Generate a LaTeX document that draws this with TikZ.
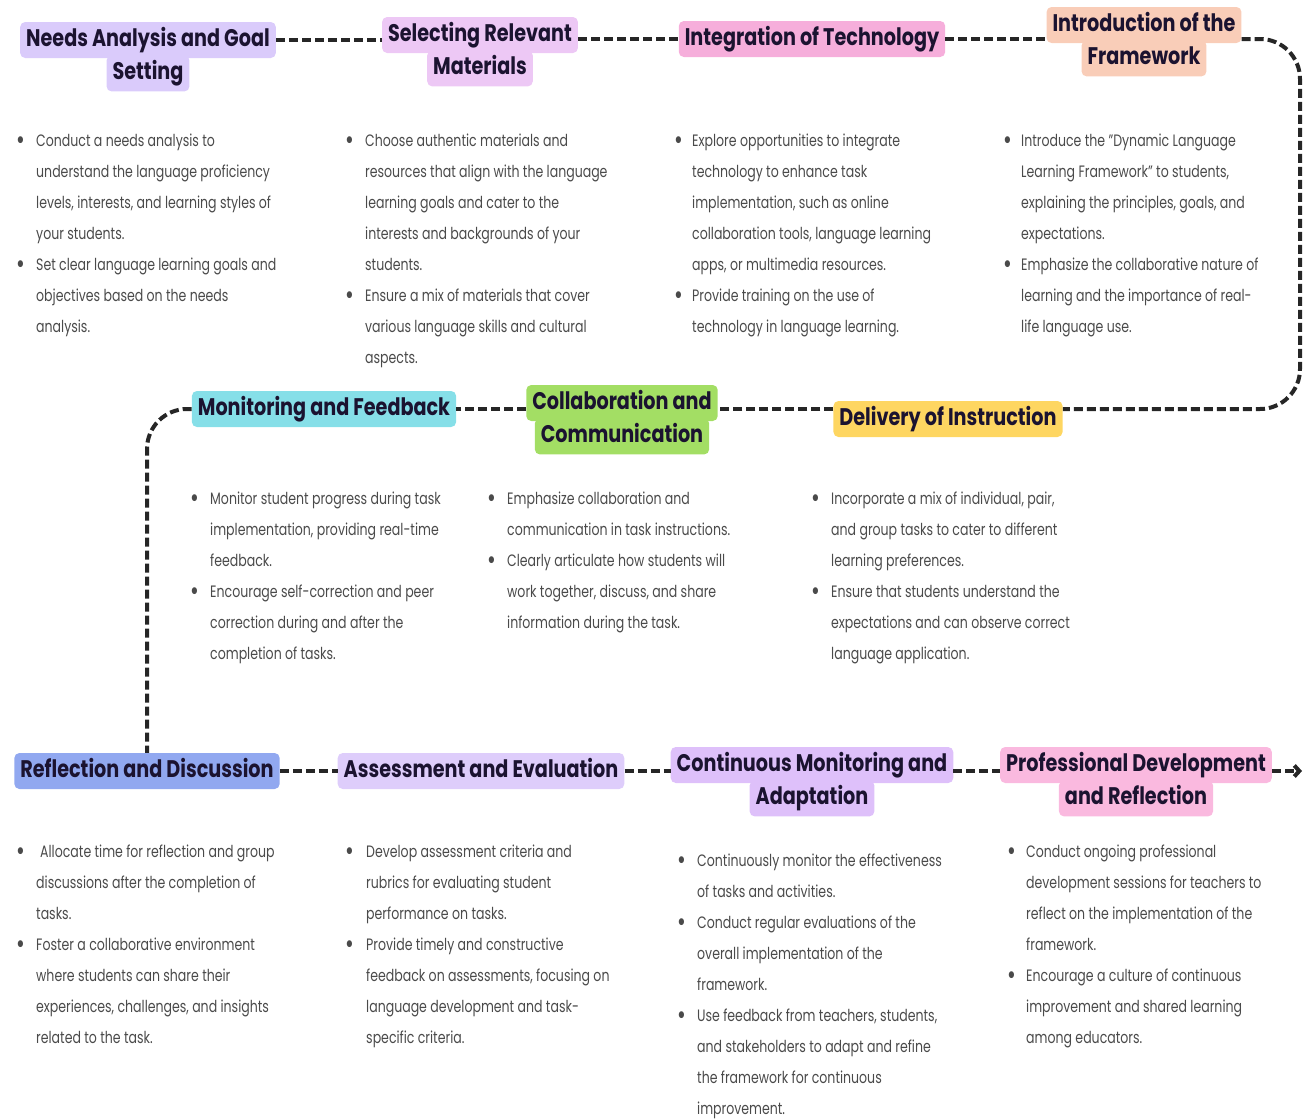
\documentclass[tikz,border=0pt]{standalone}
\usepackage{fontspec}
\setmainfont{Poppins}[FakeStretch=0.76]
\newfontfamily\headfont{Poppins}[FakeStretch=0.8]
\usetikzlibrary{positioning,arrows.meta}

\definecolor{needs}{HTML}{DACBFB}
\definecolor{select}{HTML}{EDC8F5}
\definecolor{integr}{HTML}{F6AEDB}
\definecolor{introd}{HTML}{F9CDB8}
\definecolor{monitor}{HTML}{86DFE8}
\definecolor{collab}{HTML}{A3DE64}
\definecolor{deliver}{HTML}{FED661}
\definecolor{reflect}{HTML}{91A8F0}
\definecolor{assess}{HTML}{DECDFB}
\definecolor{contin}{HTML}{DEC0FA}
\definecolor{profdev}{HTML}{FAB9DF}
\definecolor{headtext}{HTML}{1B1330}
\definecolor{bodytext}{HTML}{4A4A4A}

\newcommand{\bul}{\raisebox{-3pt}{\scalebox{1.7}{\textbullet}}}

\begin{document}
\begin{tikzpicture}[x=1pt,y=-1pt,
   title/.style={fill=#1, rounded corners=5pt, inner xsep=6pt, inner ysep=6pt,
                 text height=18pt, text depth=6pt,
                 font=\headfont\bfseries\fontsize{24}{28}\selectfont, text=headtext},
   link/.style={line width=4pt, dash pattern=on 9pt off 4pt, draw=black!85},
   blist/.style={anchor=north west, inner sep=0pt,
                 font=\fontsize{16.5}{31}\selectfont, text=bodytext}]
\useasboundingbox (0,0) rectangle (1304,1119);

\node[title=needs] (need1) at (148,40) {Needs Analysis and Goal};
\node[title=needs, below=-3pt of need1] (need2) {Setting};
\node[title=select] (sel1) at (480,35) {Selecting Relevant};
\node[title=select, below=-3pt of sel1] (sel2) {Materials};
\node[title=integr] (tech) at (812,39) {Integration of Technology};
\node[title=introd] (intro1) at (1144,25) {Introduction of the};
\node[title=introd, below=-3pt of intro1] (intro2) {Framework};

\node[title=monitor] (monit) at (324,409) {Monitoring and Feedback};
\node[title=collab] (collab1) at (622,403) {Collaboration and};
\node[title=collab, below=-3pt of collab1] (collab2) {Communication};
\node[title=deliver] (deliv) at (948,419) {Delivery of Instruction};

\node[title=reflect] (refl) at (147,771) {Reflection and Discussion};
\node[title=assess] (assess) at (481,771) {Assessment and Evaluation};
\node[title=contin] (cont1) at (812,765) {Continuous Monitoring and};
\node[title=contin, below=-3pt of cont1] (cont2) {Adaptation};
\node[title=profdev] (prof1) at (1136,765) {Professional Development};
\node[title=profdev, below=-3pt of prof1] (prof2) {and Reflection};

\coordinate (rside) at (1300,200);
\coordinate (fin) at (1302,771);

\draw[link] (need1.east) -- (need1.east -| sel1.west);
\draw[link] (sel1.east |- tech.west) -- (tech.west);
\draw[link] (tech.east) -- (tech.east -| intro1.west);
\draw[link, rounded corners=40pt] (intro1.east |- tech.east) -| (rside) |- (monit.east -| deliv.east);
\draw[link] (deliv.west |- monit.east) -- (monit.east -| collab1.east);
\draw[link] (collab1.west |- monit.east) -- (monit.east);
\draw[link, rounded corners=40pt] (monit.west) -| (refl.north);
\draw[link] (refl.east) -- (assess.west);
\draw[link] (assess.east) -- (assess.east -| cont1.west);
\draw[link] (cont1.east |- assess.east) -- (assess.east -| prof1.west);
\draw[link, -{Straight Barb[length=5pt,width=11pt]}] (prof1.east |- assess.east) -- (fin);

\node[blist] (needtxt) at (16,125) {\begin{tabular}{@{}p{20pt}@{}l@{}}
\bul & Conduct a needs analysis to\\
 & understand the language proficiency\\
 & levels, interests, and learning styles of\\
 & your students.\\
\bul & Set clear language learning goals and\\
 & objectives based on the needs\\
 & analysis.
\end{tabular}};
\node[blist] (seltxt) at (345,125) {\begin{tabular}{@{}p{20pt}@{}l@{}}
\bul & Choose authentic materials and\\
 & resources that align with the language\\
 & learning goals and cater to the\\
 & interests and backgrounds of your\\
 & students.\\
\bul & Ensure a mix of materials that cover\\
 & various language skills and cultural\\
 & aspects.
\end{tabular}};
\node[blist] (techtxt) at (674,125) {\begin{tabular}{@{}p{18pt}@{}l@{}}
\bul & Explore opportunities to integrate\\
 & technology to enhance task\\
 & implementation, such as online\\
 & collaboration tools, language learning\\
 & apps, or multimedia resources.\\
\bul & Provide training on the use of\\
 & technology in language learning.
\end{tabular}};
\node[blist] (introtxt) at (1003,125) {\begin{tabular}{@{}p{18pt}@{}l@{}}
\bul & Introduce the "Dynamic Language\\
 & Learning Framework" to students,\\
 & explaining the principles, goals, and\\
 & expectations.\\
\bul & Emphasize the collaborative nature of\\
 & learning and the importance of real-\\
 & life language use.
\end{tabular}};

\node[blist] (monittxt) at (190,483) {\begin{tabular}{@{}p{20pt}@{}l@{}}
\bul & Monitor student progress during task\\
 & implementation, providing real-time\\
 & feedback.\\
\bul & Encourage self-correction and peer\\
 & correction during and after the\\
 & completion of tasks.
\end{tabular}};
\node[blist] (collabtxt) at (487,483) {\begin{tabular}{@{}p{20pt}@{}l@{}}
\bul & Emphasize collaboration and\\
 & communication in task instructions.\\
\bul & Clearly articulate how students will\\
 & work together, discuss, and share\\
 & information during the task.
\end{tabular}};
\node[blist] (delivtxt) at (811,483) {\begin{tabular}{@{}p{20pt}@{}l@{}}
\bul & Incorporate a mix of individual, pair,\\
 & and group tasks to cater to different\\
 & learning preferences.\\
\bul & Ensure that students understand the\\
 & expectations and can observe correct\\
 & language application.
\end{tabular}};

\node[blist] (refltxt) at (16,836) {\begin{tabular}{@{}p{20pt}@{}l@{}}
\bul & \hspace{4pt}Allocate time for reflection and group\\
 & discussions after the completion of\\
 & tasks.\\
\bul & Foster a collaborative environment\\
 & where students can share their\\
 & experiences, challenges, and insights\\
 & related to the task.
\end{tabular}};
\node[blist] (assesstxt) at (345,836) {\begin{tabular}{@{}p{21pt}@{}l@{}}
\bul & Develop assessment criteria and\\
 & rubrics for evaluating student\\
 & performance on tasks.\\
\bul & Provide timely and constructive\\
 & feedback on assessments, focusing on\\
 & language development and task-\\
 & specific criteria.
\end{tabular}};
\node[blist] (conttxt) at (677,845) {\begin{tabular}{@{}p{20pt}@{}l@{}}
\bul & Continuously monitor the effectiveness\\
 & of tasks and activities.\\
\bul & Conduct regular evaluations of the\\
 & overall implementation of the\\
 & framework.\\
\bul & Use feedback from teachers, students,\\
 & and stakeholders to adapt and refine\\
 & the framework for continuous\\
 & improvement.
\end{tabular}};
\node[blist] (proftxt) at (1007,836) {\begin{tabular}{@{}p{19pt}@{}l@{}}
\bul & Conduct ongoing professional\\
 & development sessions for teachers to\\
 & reflect on the implementation of the\\
 & framework.\\
\bul & Encourage a culture of continuous\\
 & improvement and shared learning\\
 & among educators.
\end{tabular}};

\end{tikzpicture}
\end{document}
